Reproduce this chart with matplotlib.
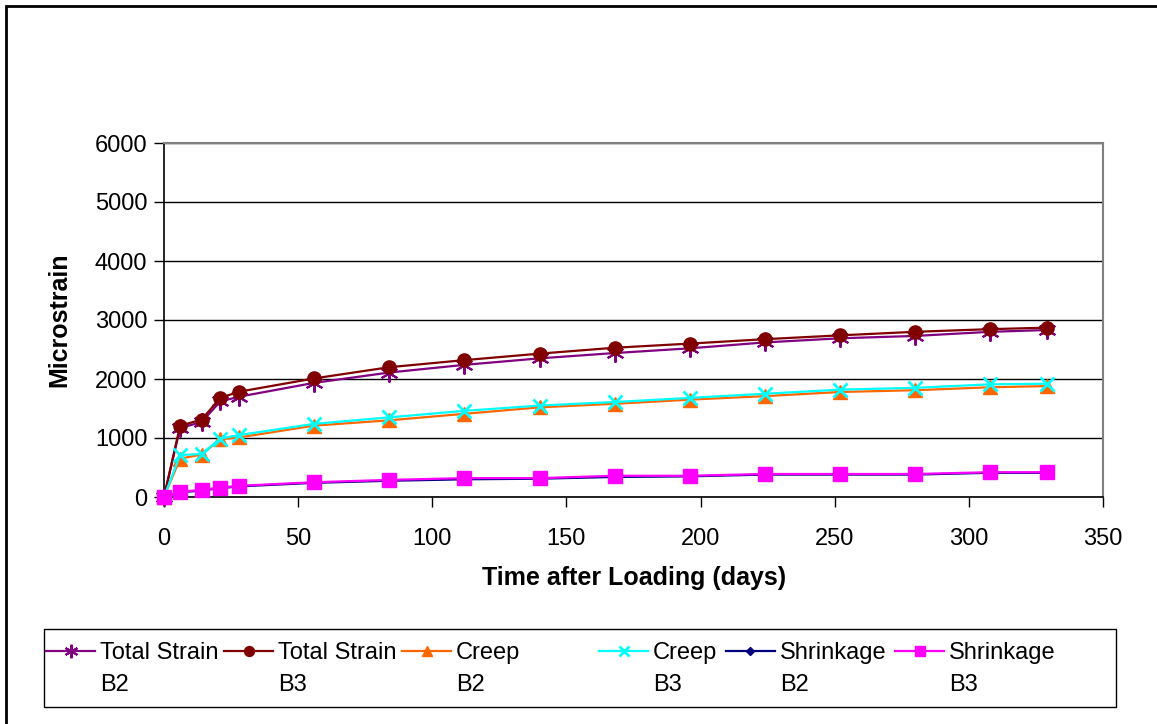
import matplotlib.pyplot as plt
from matplotlib.lines import Line2D
from matplotlib.patches import Rectangle

plt.rcParams['font.family'] = ['Liberation Sans', 'DejaVu Sans']

# time after loading (days)
days = [0, 6, 14, 21, 28, 56, 84, 112, 140, 168, 196, 224, 252, 280, 308, 329]

# microstrain readings
total_b2 = [0, 1170, 1270, 1620, 1700, 1935, 2110, 2240, 2350, 2440, 2520, 2620, 2690, 2730, 2800, 2830]
total_b3 = [0, 1210, 1310, 1680, 1785, 2010, 2200, 2320, 2430, 2530, 2600, 2675, 2740, 2800, 2845, 2870]
creep_b2 = [0, 650, 720, 980, 1010, 1210, 1300, 1410, 1520, 1580, 1650, 1710, 1780, 1810, 1860, 1880]
creep_b3 = [0, 710, 730, 990, 1050, 1240, 1350, 1460, 1550, 1610, 1680, 1750, 1820, 1850, 1910, 1920]
shrink_b2 = [0, 80, 110, 150, 180, 240, 275, 300, 310, 340, 350, 380, 380, 380, 410, 410]
shrink_b3 = [0, 90, 120, 160, 190, 250, 290, 320, 320, 360, 360, 390, 390, 390, 420, 420]

names = [('Total Strain', 'B2'), ('Total Strain', 'B3'), ('Creep', 'B2'),
         ('Creep', 'B3'), ('Shrinkage', 'B2'), ('Shrinkage', 'B3')]
series = [total_b2, total_b3, creep_b2, creep_b3, shrink_b2, shrink_b3]

# line colour, marker, marker size, marker edge width
styles = [('#800080', (6, 2, 0), 13, 1.5),
          ('#800000', 'o', 9.5, 1.0),
          ('#FF6600', '^', 10, 1.0),
          ('#00FFFF', 'x', 10, 2.0),
          ('#000080', 'D', 5, 1.0),
          ('#FF00FF', 's', 9.5, 1.0)]

W, H = 1157, 724
fig = plt.figure(figsize=(W / 100, H / 100), dpi=100)


def fx(px):
    return px / W


def fy(py):
    return 1 - py / H


ax = fig.add_axes([fx(164), fy(497), fx(1103) - fx(164), fy(143) - fy(497)])

for vals, (col, mk, ms, mew) in zip(series, styles):
    ax.plot(days, vals, color=col, lw=1.6, marker=mk, ms=ms,
            markerfacecolor=col, markeredgecolor=col, markeredgewidth=mew,
            clip_on=False, zorder=3)

ax.set_xlim(0, 350)
ax.set_ylim(0, 6000)
ax.set_xticks(range(0, 351, 50))
ax.set_yticks(range(0, 6001, 1000))
ax.yaxis.grid(True, color='black', lw=1.0)
ax.set_axisbelow(True)
ax.tick_params(axis='both', direction='out', length=7, width=1, labelsize=17,
               colors='black')
ax.tick_params(axis='y', pad=5)
ax.tick_params(axis='x', pad=15)
for s in ['top', 'right']:
    ax.spines[s].set_color('#808080')
    ax.spines[s].set_linewidth(1.5)
for s in ['left', 'bottom']:
    ax.spines[s].set_color('black')
    ax.spines[s].set_linewidth(1.2)

fig.text(fx(634), fy(578), 'Time after Loading (days)', fontsize=18,
         fontweight='bold', ha='center', va='center')
fig.text(fx(59), fy(320), 'Microstrain', fontsize=18, fontweight='bold',
         rotation=90, ha='center', va='center')

# outer chart frame (right and bottom run past the edge)
fig.add_artist(Rectangle((fx(6), fy(740)), fx(1180), fy(6) - fy(740),
                         transform=fig.transFigure, fill=False,
                         edgecolor='black', lw=2))

# legend box and entries
fig.add_artist(Rectangle((fx(44), fy(707)), fx(1116) - fx(44), fy(629) - fy(707),
                         transform=fig.transFigure, fill=False,
                         edgecolor='black', lw=1))
col_x = [46, 224, 402, 599, 726, 895]
for x0, (l1, l2), (col, mk, ms, mew) in zip(col_x, names, styles):
    fig.add_artist(Line2D([fx(x0), fx(x0 + 49)], [fy(651), fy(651)],
                          transform=fig.transFigure, color=col, lw=1.6))
    fig.add_artist(Line2D([fx(x0 + 24.5)], [fy(651)], transform=fig.transFigure,
                          color=col, marker=mk, ms=ms * 0.75,
                          markerfacecolor=col, markeredgecolor=col,
                          markeredgewidth=mew))
    fig.text(fx(x0 + 54), fy(659), l1, fontsize=17, ha='left', va='baseline')
    fig.text(fx(x0 + 54), fy(691), l2, fontsize=17, ha='left', va='baseline')

fig.savefig('out.png', dpi=100)
